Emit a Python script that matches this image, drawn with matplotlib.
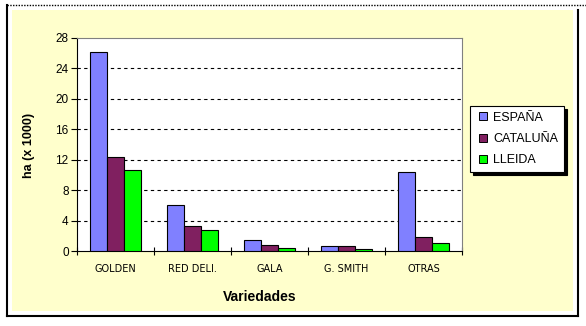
import matplotlib
matplotlib.use('Agg')
import matplotlib.pyplot as plt
import matplotlib.patches as mpatches
from matplotlib.lines import Line2D
import numpy as np

plt.rcParams['font.family'] = ['Liberation Sans', 'DejaVu Sans']

categories = ['GOLDEN', 'RED DELI.', 'GALA', 'G. SMITH', 'OTRAS']
espana = [26.2, 6.1, 1.4, 0.6, 10.35]
cataluna = [12.4, 3.25, 0.75, 0.6, 1.8]
lleida = [10.6, 2.75, 0.35, 0.2, 1.05]
series_names = ['ESPAÑA', 'CATALUÑA', 'LLEIDA']
colors = ['#8080FF', '#802060', '#00FF00']

W, H = 586, 326
fig = plt.figure(figsize=(W / 100, H / 100), dpi=100)
fig.patch.set_facecolor('white')

def fx(px):
	return px / W

def fy(py):
	return 1 - py / H

# yellow chart area and frame
fig.add_artist(mpatches.Rectangle((fx(12), fy(311)), fx(573) - fx(12), fy(10) - fy(311),
	transform=fig.transFigure, facecolor='#FFFFCC', edgecolor='none', zorder=0))
fig.add_artist(Line2D([fx(7), fx(586)], [fy(5), fy(5)], transform=fig.transFigure,
	color='black', lw=1, ls=(0, (1, 1))))
fig.add_artist(Line2D([fx(7), fx(7)], [fy(5), fy(316)], transform=fig.transFigure, color='black', lw=1.5))
fig.add_artist(Line2D([fx(7), fx(578)], [fy(316), fy(316)], transform=fig.transFigure, color='black', lw=1.5))
fig.add_artist(Line2D([fx(578), fx(578)], [fy(10), fy(316)], transform=fig.transFigure, color='black', lw=1.5))

ax = fig.add_axes([fx(77), fy(251), fx(462) - fx(77), fy(38) - fy(251)])
ax.set_facecolor('white')

x = np.arange(len(categories))
barWidth = 0.22
for i, vals in enumerate([espana, cataluna, lleida]):
	ax.bar(x + (i - 1) * barWidth, vals, width=barWidth, color=colors[i],
		edgecolor='black', linewidth=0.8, zorder=3)

ax.set_xlim(-0.5, len(categories) - 0.5)
ax.set_ylim(0, 28)
ax.set_yticks(np.arange(0, 29, 4))
ax.tick_params(axis='y', labelsize=8.5, length=4, width=0.8, direction='out', pad=2)
ax.set_xticks(x)
ax.set_xticklabels(categories, fontsize=7, family='DejaVu Sans')
ax.tick_params(axis='x', length=0, pad=9)
ax.set_xticks(np.arange(-0.5, len(categories), 1), minor=True)
ax.tick_params(axis='x', which='minor', length=6, direction='inout', width=0.8)

for yv in range(4, 28, 4):
	ax.axhline(yv, color='black', lw=0.8, ls=(0, (3, 3)), zorder=1)

ax.spines['top'].set_color('#808080')
ax.spines['right'].set_color('#808080')
ax.spines['left'].set_color('black')
ax.spines['bottom'].set_color('black')

fig.text(fx(260), fy(297), 'Variedades', fontsize=10, fontweight='bold', ha='center', va='center')
fig.text(fx(29), fy(145), 'ha (x 1000)', fontsize=9, fontweight='bold', rotation=90, ha='center', va='center')

# square legend markers like the spreadsheet legend
handles = [Line2D([], [], ls='none', marker='s', markersize=5.5, markerfacecolor=c,
	markeredgecolor='black', markeredgewidth=0.7) for c in colors]
leg = fig.legend(handles, series_names, loc='upper left',
	bbox_to_anchor=(fx(470), fy(106)), bbox_transform=fig.transFigure,
	fontsize=9, frameon=True, fancybox=False, framealpha=1,
	handlelength=1.1, handletextpad=0.3,
	labelspacing=0.75, borderpad=0.45, borderaxespad=0,
	shadow={'color': 'black', 'alpha': 1, 'ox': 2.5, 'oy': -2.5})
leg.get_frame().set_edgecolor('black')
leg.get_frame().set_linewidth(0.8)

plt.savefig('out.png', dpi=100)
